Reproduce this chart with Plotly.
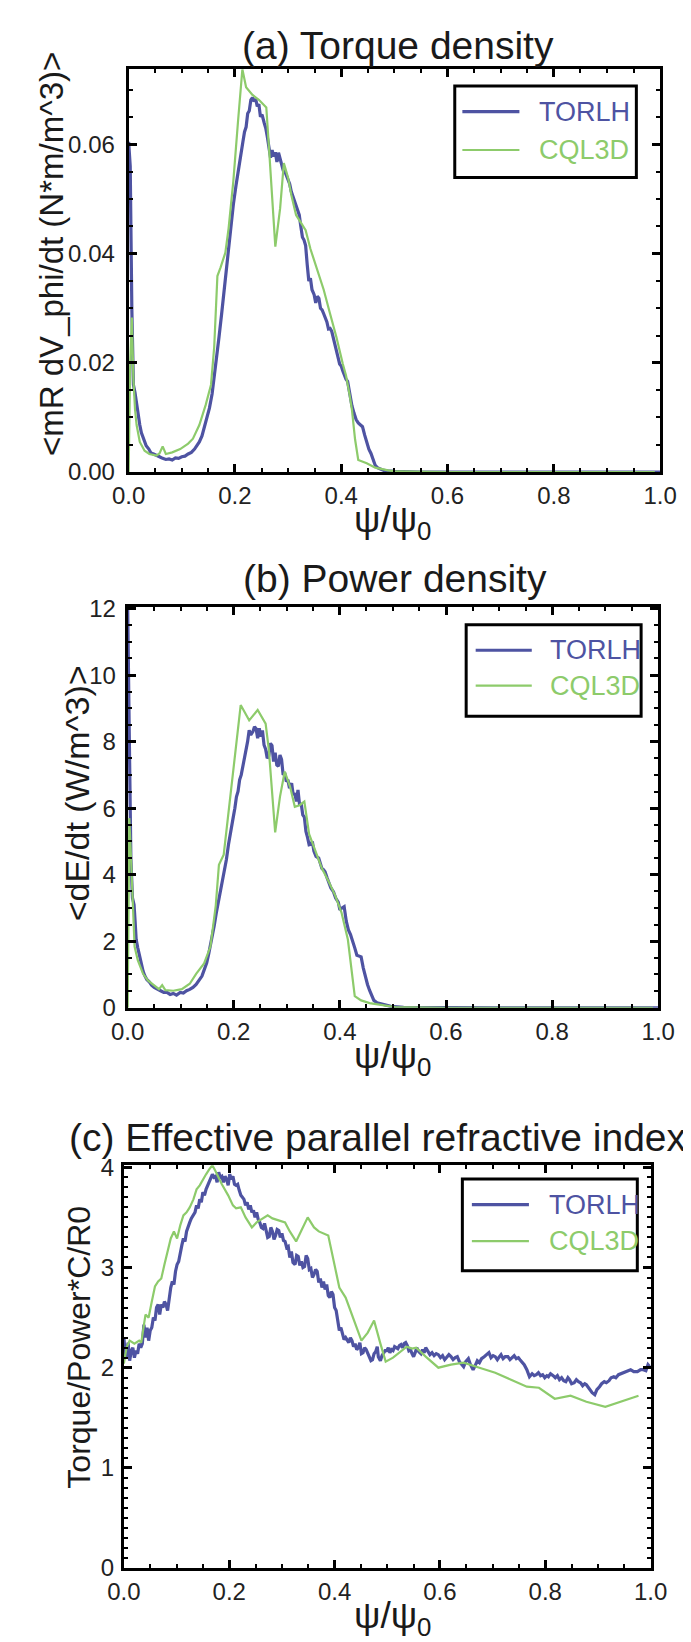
import plotly.graph_objects as go

# ---------------- data ----------------
psi_a_torlh = [0.000,0.003,0.006,0.009,0.012,0.015,0.018,0.021,0.024,0.028,0.033,0.038,0.042,0.047,0.052,0.058,0.064,0.070,0.076,0.082,0.088,0.094,0.100,0.106,0.112,0.118,0.124,0.129,0.133,0.138,0.142,0.147,0.152,0.157,0.161,0.166,0.170,0.175,0.179,0.184,0.188,0.193,0.197,0.202,0.206,0.209,0.212,0.215,0.218,0.221,0.224,0.227,0.230,0.233,0.236,0.239,0.242,0.245,0.248,0.251,0.255,0.258,0.261,0.264,0.267,0.270,0.273,0.276,0.279,0.282,0.285,0.288,0.291,0.295,0.300,0.303,0.306,0.309,0.312,0.316,0.321,0.324,0.327,0.330,0.333,0.336,0.339,0.342,0.345,0.349,0.352,0.355,0.358,0.361,0.364,0.367,0.370,0.373,0.376,0.379,0.382,0.386,0.391,0.394,0.397,0.400,0.403,0.406,0.409,0.412,0.416,0.420,0.424,0.428,0.432,0.436,0.440,0.444,0.448,0.452,0.456,0.460,0.464,0.468,0.472,0.480,0.488,0.500,0.550,0.600,0.700,0.800,0.900,1.000]
torque_torlh = [0.0605,0.0560,0.0300,0.0160,0.0145,0.0125,0.0098,0.0086,0.0072,0.0061,0.0048,0.0042,0.0035,0.0033,0.0030,0.0028,0.0025,0.0023,0.0024,0.0022,0.0026,0.0025,0.0028,0.0029,0.0033,0.0036,0.0042,0.0048,0.0055,0.0066,0.0080,0.0097,0.0117,0.0143,0.0173,0.0210,0.0247,0.0290,0.0328,0.0372,0.0415,0.0452,0.0490,0.0525,0.0552,0.0566,0.0595,0.0605,0.0623,0.0632,0.0657,0.0662,0.0682,0.0686,0.0679,0.0684,0.0670,0.0674,0.0651,0.0655,0.0640,0.0630,0.0614,0.0598,0.0576,0.0590,0.0578,0.0586,0.0568,0.0585,0.0575,0.0560,0.0552,0.0548,0.0535,0.0528,0.0514,0.0506,0.0496,0.0488,0.0471,0.0450,0.0430,0.0425,0.0415,0.0380,0.0350,0.0355,0.0334,0.0325,0.0310,0.0322,0.0318,0.0300,0.0297,0.0290,0.0284,0.0275,0.0262,0.0263,0.0258,0.0240,0.0222,0.0210,0.0198,0.0194,0.0185,0.0175,0.0170,0.0166,0.0140,0.0122,0.0108,0.0096,0.0090,0.0086,0.0083,0.0068,0.0053,0.0042,0.0034,0.0022,0.0012,0.0008,0.0006,0.0003,0.0002,0.0001,0.0,0.0,0.0,0.0,0.0,0.0]

psi_a_cql = [0.000,0.003,0.006,0.009,0.012,0.015,0.021,0.030,0.039,0.052,0.058,0.064,0.070,0.082,0.097,0.112,0.121,0.133,0.145,0.155,0.161,0.167,0.173,0.182,0.188,0.197,0.206,0.214,0.221,0.233,0.245,0.259,0.264,0.268,0.276,0.285,0.292,0.300,0.306,0.315,0.324,0.333,0.342,0.355,0.367,0.379,0.391,0.403,0.409,0.416,0.420,0.426,0.432,0.448,0.464,0.488,0.504,0.600,0.800,0.990]
torque_cql = [0.0,0.0200,0.0283,0.0170,0.0115,0.0086,0.0055,0.0039,0.0033,0.0030,0.0034,0.0047,0.0033,0.0036,0.0042,0.0052,0.0061,0.0086,0.0123,0.0160,0.0229,0.0359,0.0375,0.0402,0.0446,0.0533,0.0645,0.0738,0.0705,0.0691,0.0682,0.0668,0.0595,0.0539,0.0413,0.0483,0.0566,0.0539,0.0508,0.0471,0.0458,0.0443,0.0409,0.0371,0.0334,0.0290,0.0247,0.0198,0.0177,0.0140,0.0115,0.0060,0.0022,0.0016,0.0008,0.0003,0.0001,0.0,0.0,0.0]

psi_b_torlh = [0.000,0.002,0.004,0.006,0.009,0.012,0.014,0.016,0.019,0.021,0.024,0.026,0.029,0.032,0.036,0.041,0.045,0.050,0.056,0.062,0.068,0.074,0.080,0.086,0.092,0.099,0.105,0.111,0.117,0.123,0.129,0.135,0.140,0.144,0.149,0.153,0.158,0.163,0.167,0.172,0.176,0.181,0.186,0.190,0.195,0.199,0.202,0.205,0.208,0.211,0.214,0.217,0.220,0.223,0.226,0.229,0.232,0.236,0.239,0.242,0.245,0.248,0.251,0.254,0.257,0.260,0.263,0.266,0.269,0.272,0.275,0.278,0.281,0.284,0.287,0.290,0.293,0.296,0.299,0.302,0.305,0.309,0.312,0.315,0.318,0.321,0.324,0.327,0.330,0.333,0.336,0.339,0.342,0.345,0.348,0.351,0.355,0.360,0.363,0.366,0.369,0.372,0.376,0.379,0.383,0.388,0.392,0.397,0.400,0.404,0.408,0.412,0.416,0.420,0.424,0.428,0.432,0.436,0.440,0.444,0.448,0.452,0.456,0.460,0.464,0.470,0.476,0.486,0.496,0.520,0.600,0.700,0.800,0.900,1.000]
power_torlh = [12.0,10.0,7.0,4.5,3.3,3.1,2.6,2.05,1.8,1.64,1.45,1.23,1.1,0.97,0.85,0.77,0.68,0.61,0.55,0.51,0.46,0.46,0.40,0.43,0.38,0.46,0.44,0.51,0.55,0.61,0.70,0.82,0.95,1.13,1.35,1.64,2.0,2.46,2.85,3.27,3.6,3.99,4.45,4.91,5.3,5.73,6.0,6.34,6.5,6.85,7.0,7.26,7.4,7.77,8.0,8.34,8.2,8.3,8.45,8.39,8.1,8.4,8.15,8.34,7.9,7.77,7.5,7.57,7.95,7.88,7.4,7.67,7.3,7.26,7.6,7.47,7.0,7.06,6.8,6.85,6.6,6.75,6.4,6.45,6.2,6.55,6.1,6.14,5.8,5.73,5.3,5.12,4.9,4.91,5.0,4.71,4.55,4.5,4.3,4.19,4.15,4.09,3.9,3.79,3.6,3.48,3.3,3.17,2.94,3.0,3.04,2.6,2.34,2.2,2.03,1.8,1.58,1.55,1.53,1.2,0.93,0.7,0.52,0.35,0.22,0.15,0.12,0.07,0.04,0.01,0.0,0.0,0.0,0.0,0.0]

psi_b_cql = [0.000,0.003,0.006,0.009,0.013,0.019,0.029,0.038,0.050,0.059,0.065,0.071,0.086,0.102,0.117,0.129,0.144,0.156,0.166,0.172,0.181,0.190,0.202,0.213,0.229,0.245,0.260,0.266,0.278,0.287,0.296,0.306,0.315,0.324,0.333,0.342,0.354,0.366,0.379,0.391,0.403,0.415,0.428,0.440,0.456,0.480,0.504,0.600,0.800,0.990]
power_cql = [0.0,5.7,4.6,3.2,1.84,1.43,1.02,0.82,0.66,0.56,0.68,0.53,0.51,0.56,0.72,1.02,1.33,1.84,3.07,4.3,4.6,5.83,7.57,9.1,8.64,8.95,8.54,7.77,5.27,6.34,7.1,6.65,6.04,6.09,6.2,5.22,4.71,4.19,3.79,3.38,2.86,2.05,0.35,0.22,0.14,0.07,0.02,0.0,0.0,0.0]

psi_c_torlh = [0.000,0.002,0.005,0.008,0.011,0.014,0.017,0.020,0.023,0.026,0.029,0.032,0.035,0.038,0.041,0.044,0.047,0.050,0.053,0.056,0.059,0.062,0.065,0.068,0.071,0.074,0.077,0.080,0.083,0.086,0.089,0.092,0.095,0.098,0.101,0.104,0.107,0.110,0.113,0.116,0.119,0.122,0.125,0.128,0.132,0.135,0.138,0.141,0.144,0.147,0.150,0.153,0.156,0.159,0.162,0.165,0.168,0.171,0.174,0.177,0.180,0.183,0.186,0.189,0.192,0.195,0.198,0.201,0.204,0.207,0.210,0.213,0.216,0.219,0.222,0.225,0.228,0.231,0.234,0.237,0.240,0.243,0.246,0.249,0.252,0.255,0.258,0.261,0.264,0.267,0.270,0.273,0.276,0.279,0.282,0.285,0.288,0.291,0.294,0.297,0.300,0.303,0.306,0.309,0.312,0.315,0.318,0.321,0.325,0.328,0.331,0.334,0.337,0.340,0.343,0.346,0.349,0.352,0.355,0.358,0.361,0.364,0.367,0.370,0.373,0.376,0.379,0.382,0.385,0.388,0.391,0.394,0.397,0.400,0.403,0.406,0.409,0.412,0.415,0.418,0.421,0.424,0.427,0.430,0.433,0.436,0.439,0.442,0.445,0.448,0.451,0.454,0.457,0.460,0.463,0.466,0.469,0.472,0.475,0.478,0.481,0.483,0.487,0.490,0.493,0.496,0.499,0.502,0.505,0.508,0.511,0.514,0.517,0.520,0.523,0.526,0.529,0.532,0.535,0.538,0.541,0.544,0.547,0.550,0.553,0.556,0.560,0.564,0.567,0.570,0.573,0.577,0.581,0.585,0.589,0.593,0.597,0.601,0.605,0.609,0.613,0.617,0.621,0.625,0.629,0.633,0.637,0.641,0.645,0.649,0.654,0.658,0.663,0.667,0.671,0.675,0.679,0.684,0.688,0.693,0.697,0.701,0.705,0.709,0.713,0.716,0.720,0.724,0.729,0.733,0.737,0.741,0.745,0.749,0.752,0.756,0.760,0.765,0.770,0.775,0.779,0.783,0.787,0.791,0.795,0.799,0.803,0.806,0.810,0.815,0.819,0.823,0.827,0.831,0.835,0.839,0.843,0.846,0.850,0.855,0.859,0.863,0.867,0.871,0.875,0.878,0.882,0.885,0.889,0.894,0.898,0.903,0.907,0.912,0.916,0.921,0.925,0.930,0.934,0.939,0.944,0.950,0.956,0.962,0.968,0.975,0.981,0.986,0.991,0.995,1.000]
nindex_torlh = [2.30,2.17,2.10,2.25,2.07,2.17,2.20,2.10,2.17,2.14,2.24,2.20,2.24,2.43,2.30,2.40,2.27,2.37,2.40,2.50,2.47,2.60,2.63,2.53,2.63,2.60,2.66,2.63,2.57,2.70,2.80,2.86,2.83,2.96,3.03,3.06,3.16,3.22,3.29,3.26,3.36,3.42,3.45,3.49,3.52,3.55,3.62,3.59,3.68,3.65,3.75,3.72,3.78,3.82,3.85,3.88,3.93,3.90,3.91,3.85,3.95,3.90,3.91,3.85,3.91,3.88,3.82,3.93,3.88,3.91,3.83,3.82,3.83,3.77,3.72,3.70,3.68,3.62,3.65,3.58,3.62,3.55,3.57,3.50,3.55,3.48,3.45,3.40,3.39,3.44,3.37,3.30,3.31,3.40,3.36,3.28,3.32,3.38,3.37,3.30,3.34,3.27,3.26,3.20,3.21,3.10,3.16,3.05,3.03,3.12,3.11,3.02,3.06,3.00,3.01,3.12,3.09,2.98,2.99,2.90,2.93,2.98,2.96,2.85,2.89,2.80,2.86,2.78,2.83,2.72,2.70,2.76,2.73,2.60,2.57,2.45,2.37,2.40,2.34,2.28,2.30,2.27,2.25,2.30,2.27,2.21,2.24,2.18,2.20,2.25,2.14,2.15,2.20,2.18,2.14,2.10,2.07,2.08,2.14,2.16,2.21,2.11,2.07,2.12,2.14,2.17,2.17,2.20,2.15,2.18,2.17,2.21,2.20,2.19,2.22,2.23,2.20,2.24,2.25,2.22,2.17,2.18,2.14,2.11,2.15,2.20,2.16,2.14,2.18,2.15,2.20,2.16,2.13,2.15,2.12,2.14,2.13,2.10,2.12,2.08,2.10,2.13,2.11,2.08,2.10,2.11,2.06,2.04,2.01,2.06,2.09,2.03,1.98,2.02,2.07,2.05,2.09,2.11,2.13,2.15,2.10,2.12,2.11,2.08,2.11,2.13,2.09,2.11,2.11,2.08,2.10,2.12,2.09,2.10,2.08,2.06,2.03,1.98,1.91,1.94,1.92,1.93,1.95,1.92,1.93,1.90,1.92,1.91,1.94,1.92,1.90,1.92,1.88,1.90,1.87,1.86,1.90,1.88,1.84,1.85,1.88,1.86,1.85,1.82,1.84,1.83,1.80,1.78,1.75,1.73,1.78,1.81,1.84,1.86,1.85,1.87,1.90,1.91,1.90,1.93,1.94,1.95,1.97,1.98,1.96,1.96,1.98,1.98,1.97,2.03,2.00]

psi_c_cql = [0.000,0.005,0.011,0.020,0.029,0.033,0.041,0.047,0.053,0.059,0.065,0.071,0.077,0.083,0.089,0.095,0.101,0.107,0.113,0.119,0.125,0.132,0.138,0.144,0.150,0.156,0.162,0.168,0.174,0.186,0.198,0.207,0.213,0.222,0.231,0.243,0.252,0.264,0.273,0.282,0.294,0.306,0.315,0.327,0.337,0.349,0.361,0.370,0.388,0.397,0.409,0.421,0.439,0.451,0.463,0.475,0.487,0.497,0.511,0.523,0.537,0.547,0.555,0.573,0.597,0.621,0.645,0.675,0.705,0.735,0.765,0.788,0.818,0.848,0.878,0.914,0.944,0.977]
nindex_cql = [2.04,2.20,2.27,2.24,2.27,2.25,2.53,2.50,2.66,2.81,2.86,2.89,3.03,3.16,3.29,3.36,3.29,3.42,3.52,3.55,3.60,3.68,3.78,3.82,3.88,3.93,3.98,4.02,3.96,3.83,3.72,3.62,3.59,3.60,3.50,3.40,3.45,3.49,3.52,3.49,3.47,3.45,3.36,3.26,3.37,3.50,3.40,3.36,3.32,3.09,2.80,2.70,2.43,2.27,2.35,2.47,2.24,2.06,2.10,2.15,2.21,2.19,2.20,2.11,2.00,2.03,2.05,2.00,1.95,1.88,1.81,1.80,1.69,1.72,1.66,1.61,1.66,1.72]

x_ticks = [0.0, 0.2, 0.4, 0.6, 0.8, 1.0]
x_ticktext = ["0.0", "0.2", "0.4", "0.6", "0.8", "1.0"]
series_names = ["TORLH", "CQL3D"]
panel_titles = ["(a) Torque density", "(b) Power density", "(c) Effective parallel refractive index"]
y_titles = ["&lt;mR dV_phi/dt (N*m/m^3)&gt;", "&lt;dE/dt (W/m^3)&gt;", "Torque/Power*C/R0"]

# ---------------- styling ----------------
W, H = 691, 1642
BLUE = "#4e53a2"
GREEN = "#8dcb6b"
FONT = "Liberation Sans, Arial, sans-serif"

def px(x):
    return x / W

def py(y):
    return 1 - y / H

fig = go.Figure()

panels = [
    (psi_a_torlh, torque_torlh, psi_a_cql, torque_cql, ""),
    (psi_b_torlh, power_torlh, psi_b_cql, power_cql, "2"),
    (psi_c_torlh, nindex_torlh, psi_c_cql, nindex_cql, "3"),
]
for xb, yb, xg, yg, s in panels:
    fig.add_trace(go.Scatter(x=xb, y=yb, mode="lines", line=dict(color=BLUE, width=3.2),
                             xaxis="x" + s, yaxis="y" + s, showlegend=False, name=series_names[0]))
    fig.add_trace(go.Scatter(x=xg, y=yg, mode="lines", line=dict(color=GREEN, width=2.2),
                             xaxis="x" + s, yaxis="y" + s, showlegend=False, name=series_names[1]))

# frame geometry in pixels: (left, right, top, bottom)
frames = [(109, 668, 50, 459), (108, 666, 596, 1003), (104, 658, 1163, 1572)]
yranges = [[0, 0.0738], [0, 12.05], [0, 4.02]]
ydticks = [0.02, 2, 1]
yminor = [0.005, 0.5, 0.1]
yformats = [".2f", "d", "d"]
ystandoff = [6, 4, 2]

def xaxis_cfg(fr, anchor):
    l, r, t, b = fr
    return dict(domain=[px(l), px(r)], range=[0, 1], anchor=anchor,
                tickvals=x_ticks, ticktext=x_ticktext,
                ticks="inside", ticklen=8, tickwidth=2.5, tickcolor="black",
                minor=dict(ticks="inside", ticklen=4, tickwidth=2, dtick=0.05, tick0=0, tickcolor="black"),
                showline=True, linewidth=3, linecolor="black", mirror="allticks",
                showgrid=False, zeroline=False,
                tickfont=dict(family=FONT, size=24, color="#222"), ticklabelstandoff=0)

def yaxis_cfg(fr, anchor, rng, dt, mn, fmt, so):
    l, r, t, b = fr
    return dict(domain=[py(b), py(t)], range=rng, anchor=anchor,
                dtick=dt, tick0=0, tickformat=fmt,
                ticks="inside", ticklen=8, tickwidth=2.5, tickcolor="black",
                minor=dict(ticks="inside", ticklen=4, tickwidth=2, dtick=mn, tick0=0, tickcolor="black"),
                showline=True, linewidth=3, linecolor="black", mirror="allticks",
                showgrid=False, zeroline=False,
                tickfont=dict(family=FONT, size=24, color="#222"), ticklabelstandoff=so)

layout = dict(width=W, height=H, margin=dict(l=0, r=0, t=0, b=0),
              paper_bgcolor="white", plot_bgcolor="white", showlegend=False)
for i, s in enumerate(["", "2", "3"]):
    layout["xaxis" + s] = xaxis_cfg(frames[i], "y" + s)
    layout["yaxis" + s] = yaxis_cfg(frames[i], "x" + s, yranges[i], ydticks[i], yminor[i],
                                    yformats[i], ystandoff[i])
fig.update_layout(**layout)

annotations = []
shapes = []
# panel titles
title_pos = [(392, 26, "center"), (389, 567, "center"), (44, 1135, "left")]
for (tx, ty, anc), txt in zip(title_pos, panel_titles):
    annotations.append(dict(x=px(tx), y=py(ty), xref="paper", yref="paper", text=txt,
                            showarrow=False, xanchor=anc, yanchor="middle",
                            font=dict(family=FONT, size=39, color="#1a1a1a")))
# x axis titles
for fr in frames:
    l, r, t, b = fr
    annotations.append(dict(x=px(386), y=py(b + 51), xref="paper", yref="paper",
                            text="ψ/ψ<sub>0</sub>", showarrow=False, xanchor="center", yanchor="middle",
                            font=dict(family=FONT, size=37, color="#1a1a1a")))
# y axis titles
ytitle_pos = [(28, 238), (55, 785), (57, 1348)]
ytitle_size = [33, 34, 32]
for (tx, ty), txt, fs in zip(ytitle_pos, y_titles, ytitle_size):
    annotations.append(dict(x=px(tx), y=py(ty), xref="paper", yref="paper", text=txt,
                            showarrow=False, textangle=-90, xanchor="center", yanchor="middle",
                            font=dict(family=FONT, size=fs, color="#1a1a1a")))

# legends (box, sample lines, coloured labels)
legends = [
    dict(box=(452, 643, 67, 160), y1=93, y2=132, lx=(460, 520), tx=539),
    dict(box=(464, 648, 614, 707), y1=640, y2=676, lx=(474, 533), tx=550),
    dict(box=(460, 644, 1177, 1270), y1=1203, y2=1240, lx=(470, 530), tx=549),
]
for lg in legends:
    bl, br, bt, bb = lg["box"]
    shapes.append(dict(type="rect", xref="paper", yref="paper", x0=px(bl), x1=px(br), y0=py(bb), y1=py(bt),
                       line=dict(color="black", width=3), fillcolor="rgba(0,0,0,0)"))
    for yy, col, wdt, name in [(lg["y1"], BLUE, 3.2, series_names[0]), (lg["y2"], GREEN, 2.2, series_names[1])]:
        shapes.append(dict(type="line", xref="paper", yref="paper", x0=px(lg["lx"][0]), x1=px(lg["lx"][1]),
                           y0=py(yy), y1=py(yy), line=dict(color=col, width=wdt)))
        annotations.append(dict(x=px(lg["tx"]), y=py(yy), xref="paper", yref="paper", text=name,
                                showarrow=False, xanchor="left", yanchor="middle",
                                font=dict(family=FONT, size=27, color=col)))

fig.update_layout(annotations=annotations, shapes=shapes)
fig.write_html("out.html")
